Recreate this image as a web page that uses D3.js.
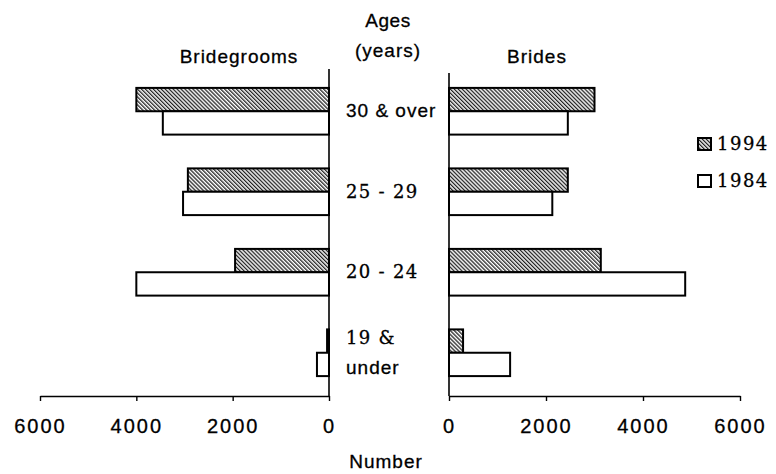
<!DOCTYPE html>
<html>
<head>
<meta charset="utf-8">
<script src="https://cdn.jsdelivr.net/npm/d3@7"></script>
<style>
  body { margin: 0; background: #fff; }
  text { fill: #000; stroke: #000; stroke-width: 0.3px; }
  .sans { font-family: "Liberation Sans", Arial, sans-serif; }
  .serif { font-family: "DejaVu Serif", serif; }
</style>
</head>
<body>
<div id="chart"></div>
<script>
// data
var categories = ["30 & over", "25 - 29", "20 - 24", "19 & under"]
var catLines = [["30 & over"], ["25 - 29"], ["20 - 24"], ["19 &", "under"]]
var years = ["1994", "1984"]
var grooms1994 = [4000, 2930, 1950, 40]
var grooms1984 = [3450, 3030, 4000, 250]
var brides1994 = [3000, 2450, 3130, 290]
var brides1984 = [2450, 2130, 4870, 1260]
var tickValues = [0, 2000, 4000, 6000]

var width = 776, height = 474
var axisY = 396

var svg = d3.select("#chart").append("svg")
    .attr("width", width)
    .attr("height", height)

// hatch pattern for 1994
var defs = svg.append("defs")
var pat = defs.append("pattern")
    .attr("id", "hatch")
    .attr("patternUnits", "userSpaceOnUse")
    .attr("width", 2.8)
    .attr("height", 2.8)
    .attr("patternTransform", "rotate(-45)")
pat.append("rect")
    .attr("x", 0).attr("y", 0)
    .attr("width", 2.8).attr("height", 2.8)
    .style("fill", "#fff")
pat.append("rect")
    .attr("x", 0).attr("y", 0)
    .attr("width", 1.3).attr("height", 2.8)
    .style("fill", "#222")

// scales
var xLeft = d3.scaleLinear().domain([0, 6000]).range([329, 40])
var xRight = d3.scaleLinear().domain([0, 6000]).range([449, 740])

var y = d3.scaleBand()
    .domain(categories)
    .range([71, 393])
    .paddingInner(0.42)
    .paddingOuter(0.21)

var ySub = d3.scaleBand().domain(years).range([0, y.bandwidth()])

var fills = {"1994": "url(#hatch)", "1984": "#fff"}

function drawBars(values, year, xs) {
  svg.append("g").selectAll("rect")
    .data(values)
    .enter().append("rect")
      .attr("x", function(d) { return Math.min(xs(0), xs(d)) })
      .attr("width", function(d) { return Math.abs(xs(d) - xs(0)) })
      .attr("y", function(d, i) { return y(categories[i]) + ySub(year) })
      .attr("height", ySub.bandwidth())
      .style("fill", fills[year])
      .style("stroke", "#000")
      .style("stroke-width", 2)
}

drawBars(grooms1994, "1994", xLeft)
drawBars(grooms1984, "1984", xLeft)
drawBars(brides1994, "1994", xRight)
drawBars(brides1984, "1984", xRight)

// vertical zero lines
svg.append("line")
    .attr("x1", xLeft(0)).attr("x2", xLeft(0))
    .attr("y1", 69).attr("y2", axisY)
    .style("stroke", "#000").style("stroke-width", 1.6)
svg.append("line")
    .attr("x1", xRight(0)).attr("x2", xRight(0))
    .attr("y1", 73).attr("y2", axisY)
    .style("stroke", "#000").style("stroke-width", 1.6)

// bottom axes
function styleAxis(g) {
  g.select(".domain").style("stroke", "#000").style("stroke-width", 1.6)
  g.selectAll(".tick line").style("stroke", "#000").style("stroke-width", 1.4)
  g.selectAll(".tick text")
    .attr("y", 37).attr("dy", 0)
    .attr("class", "sans")
    .style("font-size", "20px")
    .style("letter-spacing", "2px")
}

function makeAxis(xs) {
  var g = svg.append("g")
    .attr("transform", "translate(0," + axisY + ")")
    .call(d3.axisBottom(xs).tickValues(tickValues).tickFormat(d3.format("d"))
      .tickSize(5).tickSizeOuter(0))
    .attr("font-family", null).attr("font-size", null)
  styleAxis(g)
}
makeAxis(xLeft)
makeAxis(xRight)

// category labels in the middle
var serifLines = {"25 - 29": 1, "20 - 24": 1, "19 &": 1}
categories.forEach(function(c, i) {
  var lines = catLines[i]
  var cy = y(c) + y.bandwidth() / 2
  lines.forEach(function(t, j) {
    var isSerif = serifLines[t]
    svg.append("text")
      .attr("class", isSerif ? "serif" : "sans")
      .attr("x", 346)
      .attr("y", cy + 6 + (j - (lines.length - 1) / 2) * 30)
      .style("font-size", isSerif ? "18px" : "19px")
      .style("letter-spacing", isSerif ? "1.3px" : "1px")
      .text(t)
  })
})

// titles
function label(txt, x, yy, cls, size, ls) {
  return svg.append("text")
    .attr("class", cls)
    .attr("x", x).attr("y", yy)
    .attr("text-anchor", "middle")
    .style("font-size", size + "px")
    .style("letter-spacing", ls + "px")
    .text(txt)
}
label("Ages", 388, 27, "sans", 19, 0.5)
label("(years)", 388, 57, "sans", 19, 1)
label("Bridegrooms", 239, 63, "sans", 19, 1)
label("Brides", 537, 63, "sans", 19, 1)
label("Number", 386, 468, "sans", 19, 1)

// legend
var legend = svg.append("g")
years.forEach(function(yr, i) {
  var by = 150 + i * 37
  legend.append("rect")
    .attr("x", 698).attr("y", by - 12)
    .attr("width", 13).attr("height", 12)
    .style("fill", fills[yr])
    .style("stroke", "#000")
    .style("stroke-width", 2)
  legend.append("text")
    .attr("class", "serif")
    .attr("x", 717).attr("y", by)
    .style("font-size", "18px")
    .style("letter-spacing", "1.5px")
    .text(yr)
})
</script>
</body>
</html>
